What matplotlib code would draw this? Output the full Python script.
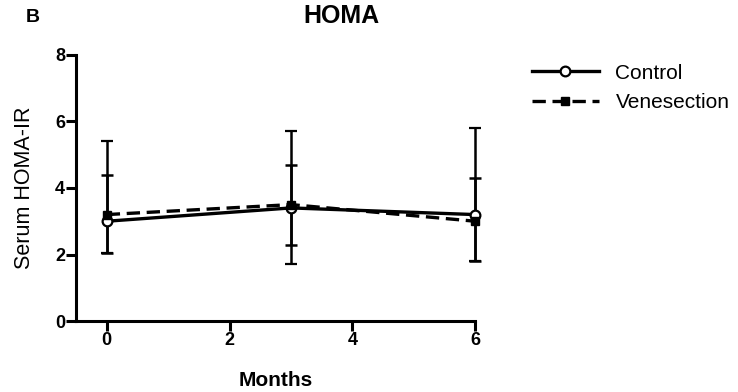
import matplotlib.pyplot as plt
import numpy as np

plt.rcParams['font.family'] = ['Liberation Sans', 'DejaVu Sans']

months = [0, 3, 6]

control = [3.0, 3.4, 3.2]
control_hi = [5.4, 5.7, 5.8]   # upper end of error bar
control_lo = [2.05, 1.7, 1.8]  # lower end of error bar

vene = [3.2, 3.5, 3.0]
vene_hi = [4.4, 4.7, 4.3]
vene_lo = [2.05, 2.3, 1.8]

fig = plt.figure(figsize=(7.38, 3.92), dpi=100)
ax = fig.add_axes([0.103, 0.181, 0.541, 0.679])

c = np.array(control)
v = np.array(vene)
eb1 = ax.errorbar(months, control, yerr=[c - np.array(control_lo), np.array(control_hi) - c],
                  color='black', lw=2.4, marker='o', ms=7, mfc='white', mew=1.6,
                  capsize=4.5, elinewidth=1.8, capthick=1.8, label='Control', zorder=3)
eb2 = ax.errorbar(months, vene, yerr=[v - np.array(vene_lo), np.array(vene_hi) - v],
                  color='black', lw=2.4, ls=(0, (4, 2)), marker='s', ms=6,
                  capsize=4.5, elinewidth=1.8, capthick=1.8, label='Venesection', zorder=3)
for eb in (eb1, eb2):
    for art in eb.get_children():
        art.set_clip_on(False)

ax.set_xlim(-0.5, 6)
ax.set_ylim(0, 8)
ax.set_xticks([0, 2, 4, 6])
ax.set_yticks([0, 2, 4, 6, 8])
for s in ['top', 'right']:
    ax.spines[s].set_visible(False)
for s in ['left', 'bottom']:
    ax.spines[s].set_linewidth(2.2)
ax.tick_params(direction='out', length=7, width=2.2, labelsize=13, pad=1)
for lab in ax.get_xticklabels() + ax.get_yticklabels():
    lab.set_fontweight('bold')

ax.set_xlabel('Months', fontsize=15, fontweight='bold')
ax.xaxis.label.set_va('center')
ax.xaxis.set_label_coords(0.5, -0.222)
ax.set_ylabel('Serum HOMA-IR', fontsize=15.5)
ax.yaxis.label.set_va('center')
ax.yaxis.set_label_coords(-0.128, 0.5)

fig.text(0.463, 0.958, 'HOMA', fontsize=18, fontweight='bold', ha='center', va='center')
fig.text(0.035, 0.955, 'B', fontsize=14, fontweight='bold', ha='left', va='center')

handles, labels = ax.get_legend_handles_labels()
handles = [h[0] for h in handles]
fig.legend(handles, labels, loc='upper left', bbox_to_anchor=(0.721, 0.838), frameon=False,
           fontsize=15, handlelength=3.2, handletextpad=0.8, labelspacing=0.5,
           borderpad=0, borderaxespad=0)

fig.savefig('out.png', dpi=100)
